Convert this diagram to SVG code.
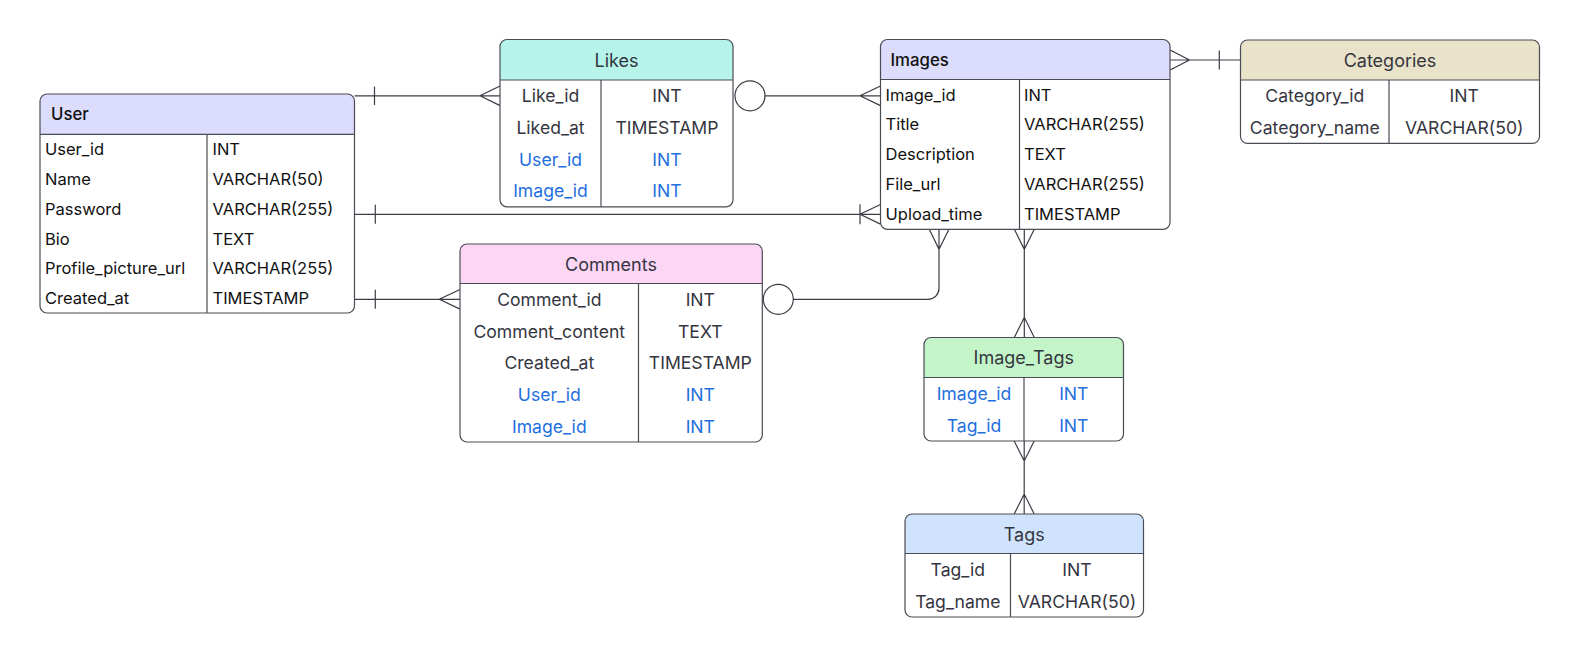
<svg xmlns="http://www.w3.org/2000/svg" width="1582" height="658" viewBox="0 0 1582 658">
<style>
text{font-family:Inter,"Noto Sans","Liberation Sans",sans-serif;font-size:17.6px;dominant-baseline:central}
.box{fill:none;stroke:#4b4b55;stroke-width:1.2}
.body{fill:#fff}
.div{stroke:#4b4b55;stroke-width:1.2}
.k{fill:#111;font-size:16.5px}
.g{fill:#35353f}
.b{fill:#1f6fe0}
.c{text-anchor:middle}
.h{fill:#35353f;font-weight:400;font-size:18px}
.hl{fill:#111;font-weight:500;font-size:16.8px}
.ln{fill:none;stroke:#3c3c46;stroke-width:1.2}
</style>
<rect width="1582" height="658" fill="#fff"/>
<g id="connectors">
  <path class="ln" d="M354.5 95.8H500 M374.5 86.5V105 M500 86L480 95.8L500 105.6"/>
  <circle class="ln" cx="750" cy="95.8" r="15" fill="#fff"/>
  <path class="ln" d="M765 95.8H880.5 M880.5 86L860 95.8L880.5 105.6"/>
  <path class="ln" d="M354.5 214.3H880.5 M375.3 204.8V223.8 M860 204.3V224.3 M880.5 204.5L860 214.3L880.5 224.1"/>
  <path class="ln" d="M354.5 299.3H460 M375.3 289.8V308.8 M460 289.5L439.3 299.3L460 309.1"/>
  <circle class="ln" cx="778.3" cy="299.3" r="15" fill="#fff"/>
  <path class="ln" d="M793.3 299.3H928 A11 11 0 0 0 939 288.3V229.3 M929.3 229.3L939 249.3L949 229.3"/>
  <path class="ln" d="M1170 60H1240.5 M1219.3 50.5V69.5 M1170 50L1189.5 60L1170 70"/>
  <path class="ln" d="M1024.3 229.3V337.5 M1014.3 229.3L1024.3 249.3L1034.3 229.3 M1014.3 337.5L1024.3 317.3L1034.3 337.5"/>
  <path class="ln" d="M1024.2 441V514 M1014.2 441L1024.2 461L1034.2 441 M1014.2 514L1024.2 494L1034.2 514"/>
</g>

<g id="User">
  <rect class="body" x="40" y="94" width="314.5" height="219" rx="7"/>
  <path d="M40 134.3V101A7 7 0 0 1 47 94H347.5A7 7 0 0 1 354.5 101V134.3Z" fill="#dcdcfc"/>
  <rect class="box" x="40" y="94" width="314.5" height="219" rx="7"/>
  <line class="div" x1="40" y1="134.3" x2="354.5" y2="134.3"/>
  <line class="div" x1="207" y1="134.3" x2="207" y2="313"/>
  <text class="hl" x="51" y="114">User</text>
  <text class="k" x="45" y="149.2">User_id</text><text class="k" x="212.5" y="149.2">INT</text>
  <text class="k" x="45" y="179">Name</text><text class="k" x="212.5" y="179">VARCHAR(50)</text>
  <text class="k" x="45" y="208.8">Password</text><text class="k" x="212.5" y="208.8">VARCHAR(255)</text>
  <text class="k" x="45" y="238.6">Bio</text><text class="k" x="212.5" y="238.6">TEXT</text>
  <text class="k" x="45" y="268.4">Profile_picture_url</text><text class="k" x="212.5" y="268.4">VARCHAR(255)</text>
  <text class="k" x="45" y="298.2">Created_at</text><text class="k" x="212.5" y="298.2">TIMESTAMP</text>
</g>

<g id="Likes">
  <rect class="body" x="500" y="39.5" width="233" height="167.3" rx="7"/>
  <path d="M500 80V46.5A7 7 0 0 1 507 39.5H726A7 7 0 0 1 733 46.5V80Z" fill="#b6f4ea"/>
  <rect class="box" x="500" y="39.5" width="233" height="167.3" rx="7"/>
  <line class="div" x1="500" y1="80" x2="733" y2="80"/>
  <line class="div" x1="601" y1="80" x2="601" y2="206.8"/>
  <text class="h c" x="616.5" y="60">Likes</text>
  <text class="g c" x="550.5" y="95.8">Like_id</text><text class="g c" x="667" y="95.8">INT</text>
  <text class="g c" x="550.5" y="127.5">Liked_at</text><text class="g c" x="667" y="127.5">TIMESTAMP</text>
  <text class="b c" x="550.5" y="159.2">User_id</text><text class="b c" x="667" y="159.2">INT</text>
  <text class="b c" x="550.5" y="190.9">Image_id</text><text class="b c" x="667" y="190.9">INT</text>
</g>

<g id="Images">
  <rect class="body" x="880.5" y="39.5" width="289.5" height="189.8" rx="7"/>
  <path d="M880.5 79.5V46.5A7 7 0 0 1 887.5 39.5H1163A7 7 0 0 1 1170 46.5V79.5Z" fill="#dcdcfc"/>
  <rect class="box" x="880.5" y="39.5" width="289.5" height="189.8" rx="7"/>
  <line class="div" x1="880.5" y1="79.5" x2="1170" y2="79.5"/>
  <line class="div" x1="1019.5" y1="79.5" x2="1019.5" y2="229.3"/>
  <text class="hl" x="890.5" y="60">Images</text>
  <text class="k" x="885.5" y="94.5">Image_id</text><text class="k" x="1024" y="94.5">INT</text>
  <text class="k" x="885.5" y="124.4">Title</text><text class="k" x="1024" y="124.4">VARCHAR(255)</text>
  <text class="k" x="885.5" y="154.4">Description</text><text class="k" x="1024" y="154.4">TEXT</text>
  <text class="k" x="885.5" y="184.4">File_url</text><text class="k" x="1024" y="184.4">VARCHAR(255)</text>
  <text class="k" x="885.5" y="214.3">Upload_time</text><text class="k" x="1024" y="214.3">TIMESTAMP</text>
</g>

<g id="Categories">
  <rect class="body" x="1240.5" y="40" width="299" height="103.4" rx="7"/>
  <path d="M1240.5 80V47A7 7 0 0 1 1247.5 40H1532.5A7 7 0 0 1 1539.5 47V80Z" fill="#e9e3c9"/>
  <rect class="box" x="1240.5" y="40" width="299" height="103.4" rx="7"/>
  <line class="div" x1="1240.5" y1="80" x2="1539.5" y2="80"/>
  <line class="div" x1="1389" y1="80" x2="1389" y2="143.4"/>
  <text class="h c" x="1390" y="60">Categories</text>
  <text class="g c" x="1314.8" y="95.8">Category_id</text><text class="g c" x="1464.2" y="95.8">INT</text>
  <text class="g c" x="1314.8" y="127.5">Category_name</text><text class="g c" x="1464.2" y="127.5">VARCHAR(50)</text>
</g>

<g id="Comments">
  <rect class="body" x="460" y="244" width="302.3" height="198" rx="7"/>
  <path d="M460 283.5V251A7 7 0 0 1 467 244H755.3A7 7 0 0 1 762.3 251V283.5Z" fill="#fdd6f5"/>
  <rect class="box" x="460" y="244" width="302.3" height="198" rx="7"/>
  <line class="div" x1="460" y1="283.5" x2="762.3" y2="283.5"/>
  <line class="div" x1="638.5" y1="283.5" x2="638.5" y2="442"/>
  <text class="h c" x="611" y="264">Comments</text>
  <text class="g c" x="549.3" y="299.3">Comment_id</text><text class="g c" x="700.3" y="299.3">INT</text>
  <text class="g c" x="549.3" y="331">Comment_content</text><text class="g c" x="700.3" y="331">TEXT</text>
  <text class="g c" x="549.3" y="362.7">Created_at</text><text class="g c" x="700.3" y="362.7">TIMESTAMP</text>
  <text class="b c" x="549.3" y="394.4">User_id</text><text class="b c" x="700.3" y="394.4">INT</text>
  <text class="b c" x="549.3" y="426.1">Image_id</text><text class="b c" x="700.3" y="426.1">INT</text>
</g>

<g id="Image_Tags">
  <rect class="body" x="924" y="337.5" width="199.5" height="103.5" rx="7"/>
  <path d="M924 377.5V344.5A7 7 0 0 1 931 337.5H1116.5A7 7 0 0 1 1123.5 344.5V377.5Z" fill="#c3f5c8"/>
  <rect class="box" x="924" y="337.5" width="199.5" height="103.5" rx="7"/>
  <line class="div" x1="924" y1="377.5" x2="1123.5" y2="377.5"/>
  <line class="div" x1="1024" y1="377.5" x2="1024" y2="441"/>
  <text class="h c" x="1023.8" y="357.5">Image_Tags</text>
  <text class="b c" x="974" y="393.3">Image_id</text><text class="b c" x="1073.8" y="393.3">INT</text>
  <text class="b c" x="974" y="425">Tag_id</text><text class="b c" x="1073.8" y="425">INT</text>
</g>

<g id="Tags">
  <rect class="body" x="905" y="514" width="238.5" height="103" rx="7"/>
  <path d="M905 553.5V521A7 7 0 0 1 912 514H1136.5A7 7 0 0 1 1143.5 521V553.5Z" fill="#d0e3fd"/>
  <rect class="box" x="905" y="514" width="238.5" height="103" rx="7"/>
  <line class="div" x1="905" y1="553.5" x2="1143.5" y2="553.5"/>
  <line class="div" x1="1010.5" y1="553.5" x2="1010.5" y2="617"/>
  <text class="h c" x="1024.2" y="534">Tags</text>
  <text class="g c" x="957.8" y="569.3">Tag_id</text><text class="g c" x="1077" y="569.3">INT</text>
  <text class="g c" x="957.8" y="601">Tag_name</text><text class="g c" x="1077" y="601">VARCHAR(50)</text>
</g>
</svg>
